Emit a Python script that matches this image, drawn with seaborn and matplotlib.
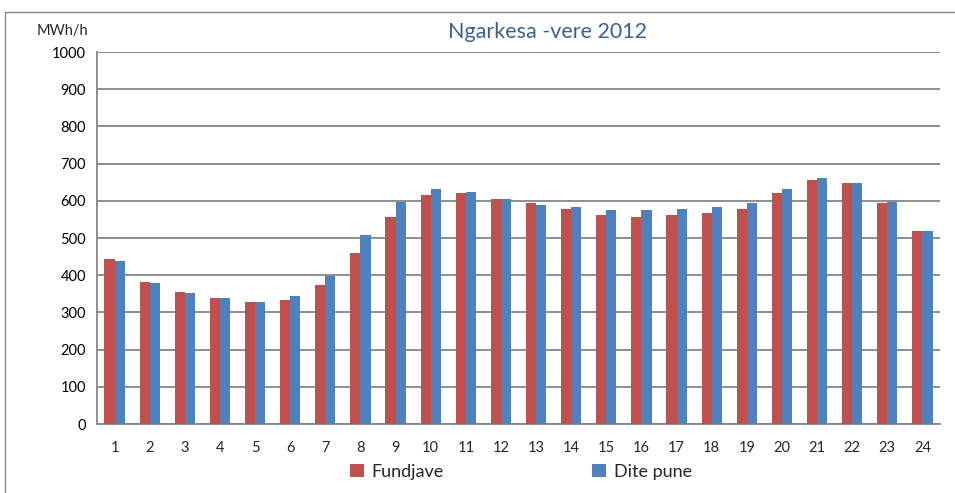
import matplotlib
matplotlib.use("Agg")
import matplotlib.pyplot as plt
import seaborn as sns
import pandas as pd
from matplotlib.patches import Rectangle, Patch

hours = [str(h) for h in range(1, 25)]
fundjave = [443, 383, 356, 338, 328, 334, 375, 461, 557, 616, 620, 606,
            593, 579, 561, 557, 561, 566, 579, 620, 656, 647, 593, 520]
dite_pune = [438, 379, 352, 338, 328, 343, 397, 507, 597, 633, 624, 606,
             588, 584, 575, 575, 579, 584, 593, 633, 661, 647, 597, 520]
series_names = ["Fundjave", "Dite pune"]
colors = ["#C0504D", "#4F81BD"]
title = "Ngarkesa -vere 2012"
ylabel = "MWh/h"
yticks = [0, 100, 200, 300, 400, 500, 600, 700, 800, 900, 1000]

df = pd.DataFrame({
    "hour": hours * 2,
    "value": fundjave + dite_pune,
    "series": [series_names[0]] * 24 + [series_names[1]] * 24,
})

sns.set_theme(style="white")
plt.rcParams["font.family"] = ["Lato", "DejaVu Sans"]

fig = plt.figure(figsize=(9.55, 4.93), dpi=100)
ax = fig.add_axes([97 / 955, 69 / 493, 843 / 955, 372 / 493])

sns.barplot(data=df, x="hour", y="value", hue="series", order=hours,
            hue_order=series_names, palette=colors, width=0.58, gap=0,
            saturation=1, legend=False, ax=ax, zorder=3)
for p in ax.patches:
    p.set_edgecolor("none")

ax.set_xlim(-0.5, 23.5)
ax.set_ylim(0, 1000)
ax.set_yticks(yticks)
ax.set_yticklabels([str(v) for v in yticks], fontsize=10.5, color="#000000")
ax.set_xticks(range(24))
ax.set_xticklabels(hours, fontsize=10.5)
ax.set_xticks([i + 0.5 for i in range(-1, 24)], minor=True)
ax.tick_params(axis="x", which="major", length=0, pad=12)
ax.tick_params(axis="x", which="minor", length=4, width=1.2, color="#868686", direction="out")
ax.tick_params(axis="y", which="major", length=4, width=1.2, color="#868686", direction="out", pad=4)
ax.set_xlabel("")
ax.set_ylabel("")
ax.grid(axis="y", color="#868686", linewidth=1.3, zorder=0)
ax.set_axisbelow(True)
for s in ["top", "right"]:
    ax.spines[s].set_visible(False)
for s in ["left", "bottom"]:
    ax.spines[s].set_color("#868686")
    ax.spines[s].set_linewidth(1.3)

fig.text(547 / 955, 1 - 32 / 493, title, ha="center", va="center",
         fontsize=15.5, color="#3F5F8F")
fig.text(62 / 955, 1 - 31 / 493, ylabel, ha="center", va="center", fontsize=10.5)

# chart border
fig.patches.append(Rectangle((5 / 955, -0.1), 1.2, 1 - 12 / 493 + 0.1,
                             transform=fig.transFigure, fill=False,
                             edgecolor="#868686", linewidth=1.0))

handles = [Patch(facecolor=c, edgecolor="none") for c in colors]
fig.legend(handles, series_names, loc="center", bbox_to_anchor=(521 / 955, 1 - 472 / 493),
           ncol=2, frameon=False, fontsize=13, handlelength=0.75, handleheight=0.75,
           handletextpad=0.45, columnspacing=8.2)

fig.savefig("out.png", dpi=100)
